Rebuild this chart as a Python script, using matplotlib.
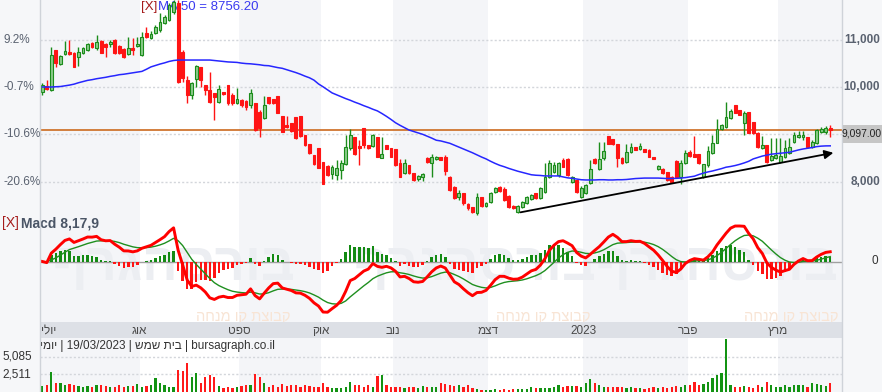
import numpy as np
import pandas as pd
import matplotlib
matplotlib.use('Agg')
import matplotlib.pyplot as plt
from matplotlib.lines import Line2D
from matplotlib.patches import Rectangle

plt.rcParams['font.family'] = ['Liberation Sans', 'DejaVu Sans']

# daily candles, 03/07/2022 .. 19/03/2023
opens = [9890, 10020, 9940, 10780, 10490, 10700, 10740, 10720, 10630, 10720,
         10780, 10930, 10820, 10970, 10910, 10910, 10990, 10870, 10800, 10700,
         10820, 10870, 10680, 11140, 11040, 11140, 11210, 11350, 11420, 11590,
         11780, 10740, 10150, 9830, 10170, 10420, 10040, 9940, 9870, 9680,
         9890, 10040, 9830, 9660, 9730, 9700, 9620, 9660, 9470, 9340,
         9790, 9750, 9810, 9390, 9200, 9240, 9370, 9390, 8990, 8800,
         8560, 8710, 8410, 8330, 8160, 8140, 8250, 8370, 8710, 8940,
         8750, 9130, 8770, 8750, 8940, 8500, 8770, 8710, 8690, 8390,
         8180, 8350, 8180, 8060, 8100, 8500, 8390, 8480, 8520, 8520,
         8100, 7890, 7670, 7760, 7530, 7460, 7340, 7670, 7480, 7570,
         7780, 7890, 7840, 7700, 7480, 7360, 7460, 7550, 7630, 7760,
         7650, 7780, 8100, 8200, 8140, 8460, 8480, 7990, 8030, 7670,
         7760, 7970, 8480, 8270, 8500, 8960, 8900, 8800, 8500, 8410,
         8630, 8730, 8690, 8690, 8670, 8520, 8270, 8270, 8200, 8100,
         8440, 8100, 8390, 8630, 8580, 8580, 8100, 8350, 8600, 8820,
         9110, 9150, 9340, 9620, 9510, 9240, 9470, 9260, 9030, 8710,
         8770, 8460, 8500, 8410, 8520, 8600, 8840, 8940, 8940, 8940,
         8730, 8820, 9050, 9050, 9130]
closes = [10040, 9960, 10680, 10510, 10660, 10760, 10700, 10420, 10740, 10820,
          10910, 10850, 10950, 10720, 10850, 10950, 10720, 10720, 10630, 10820,
          10780, 10910, 11060, 11060, 11120, 11270, 11370, 11480, 11730, 11800,
          10110, 10190, 9830, 10080, 10440, 10150, 9940, 9680, 9790, 9960,
          9850, 9660, 9660, 9750, 9620, 9580, 9870, 9090, 9130, 9620,
          9660, 9660, 9450, 9050, 9150, 9070, 8920, 8960, 8770, 8600,
          8370, 8290, 7950, 8140, 8310, 8290, 8390, 8730, 8990, 8580,
          8710, 8770, 8710, 8990, 8520, 8580, 8690, 8520, 8350, 8100,
          8390, 8180, 8030, 8120, 8160, 8410, 8520, 8520, 8460, 8220,
          7820, 7650, 7760, 7550, 7440, 7360, 7670, 7480, 7550, 7760,
          7870, 7800, 7610, 7460, 7440, 7480, 7570, 7670, 7720, 7650,
          7870, 8100, 8390, 8350, 8390, 8310, 8140, 8100, 7780, 7870,
          7930, 8270, 8390, 8480, 8650, 8800, 8800, 8500, 8390, 8630,
          8730, 8670, 8750, 8630, 8520, 8480, 8330, 8180, 8030, 7990,
          8100, 8390, 8600, 8540, 8520, 8390, 8370, 8650, 8820, 9110,
          9200, 9370, 9490, 9450, 9410, 9450, 9030, 9030, 8730, 8770,
          8410, 8540, 8560, 8540, 8710, 8730, 8990, 8990, 8990, 8730,
          8840, 9090, 9110, 9130, 9097]
highs = [10080, 10150, 10850, 10780, 10680, 10970, 10990, 10740, 10850, 10850,
         10930, 10950, 11100, 10990, 10930, 10990, 11010, 10890, 10820, 11060,
         11040, 11060, 11160, 11270, 11180, 11310, 11560, 11520, 11780, 11840,
         11840, 10780, 10230, 10110, 10470, 10420, 10040, 10320, 9870, 10040,
         9890, 10040, 9870, 9980, 9750, 9730, 9960, 9660, 9510, 9810,
         9790, 9750, 9810, 9390, 9390, 9240, 9370, 9390, 8990, 8800,
         8560, 8710, 8410, 8350, 8350, 8460, 8460, 8990, 9110, 8940,
         8880, 9130, 8780, 9010, 8940, 8940, 8780, 8720, 8700, 8480,
         8480, 8360, 8190, 8140, 8180, 8510, 8580, 8540, 8530, 8560,
         8110, 7900, 7820, 7760, 7550, 7460, 7760, 7680, 7570, 7780,
         7890, 7910, 7890, 7710, 7510, 7510, 7590, 7700, 7740, 7770,
         7890, 8390, 8460, 8410, 8410, 8500, 8490, 8120, 8040, 7910,
         7950, 8460, 8490, 8840, 8840, 8970, 8900, 8800, 8510, 8800,
         8820, 8740, 8820, 8700, 8680, 8530, 8350, 8280, 8210, 8110,
         8450, 8460, 8670, 8670, 8960, 8590, 8380, 8750, 8990, 9320,
         9220, 9680, 9540, 9630, 9520, 9490, 9480, 9260, 9040, 8960,
         8780, 8920, 8920, 8920, 8880, 8920, 9050, 9070, 9070, 8950,
         8880, 9110, 9150, 9180, 9200]
lows = [9830, 9940, 9920, 10420, 10470, 10680, 10680, 10420, 10440, 10700,
        10760, 10820, 10780, 10710, 10630, 10850, 10700, 10700, 10620, 10680,
        10680, 10850, 10660, 11040, 11020, 11120, 11160, 11330, 11400, 11540,
        10080, 10110, 9660, 9750, 10000, 10000, 9830, 9670, 9300, 9660,
        9830, 9620, 9620, 9640, 9580, 9510, 9560, 9080, 8940, 9320,
        9640, 9640, 9440, 9040, 9130, 9050, 8910, 8940, 8750, 8580,
        8350, 8280, 7940, 8120, 8060, 8030, 8060, 8350, 8670, 8570,
        8350, 8710, 8700, 8730, 8510, 8490, 8680, 8510, 8340, 8090,
        8160, 8170, 8020, 8010, 8010, 8400, 8100, 8460, 8450, 8140,
        7810, 7640, 7610, 7510, 7400, 7340, 7290, 7470, 7460, 7550,
        7760, 7780, 7600, 7450, 7430, 7340, 7440, 7530, 7610, 7640,
        7630, 7770, 8080, 8180, 8100, 8300, 8120, 7970, 7770, 7650,
        7740, 7950, 8380, 8250, 8460, 8790, 8770, 8310, 8380, 8390,
        8610, 8660, 8670, 8620, 8510, 8470, 8250, 8170, 8020, 7980,
        8090, 7950, 8370, 8520, 8510, 8380, 8080, 8310, 8590, 8810,
        9090, 9140, 9330, 9440, 9400, 8990, 9020, 9010, 8720, 8690,
        8400, 8440, 8480, 8390, 8500, 8580, 8820, 8920, 8880, 8710,
        8710, 8800, 9030, 9010, 8940]
ma50 = [10000, 10000, 10000, 10005, 10010, 10025, 10040, 10060, 10090, 10115,
        10140, 10155, 10175, 10190, 10205, 10225, 10240, 10260, 10270, 10285,
        10300, 10315, 10330, 10375, 10425, 10455, 10485, 10510, 10540, 10560,
        10570, 10570, 10570, 10570, 10570, 10570, 10570, 10570, 10560, 10550,
        10540, 10530, 10525, 10520, 10505, 10495, 10490, 10480, 10470, 10455,
        10450, 10430, 10410, 10395, 10365, 10335, 10305, 10270, 10230, 10195,
        10145, 10065, 10005, 9940, 9875, 9835, 9795, 9755, 9720, 9680,
        9645, 9605, 9570, 9530, 9495, 9440, 9380, 9315, 9245, 9190,
        9140, 9090, 9060, 9030, 9000, 8960, 8920, 8875, 8860, 8835,
        8810, 8770, 8730, 8690, 8650, 8610, 8565, 8520, 8480, 8430,
        8385, 8345, 8315, 8280, 8250, 8220, 8195, 8170, 8145, 8135,
        8130, 8120, 8120, 8120, 8120, 8100, 8080, 8070, 8055, 8040,
        8035, 8035, 8035, 8040, 8040, 8035, 8035, 8040, 8040, 8045,
        8055, 8065, 8070, 8075, 8075, 8075, 8075, 8070, 8065, 8065,
        8070, 8075, 8085, 8100, 8115, 8150, 8180, 8205, 8225, 8250,
        8275, 8305, 8320, 8340, 8365, 8395, 8430, 8480, 8510, 8540,
        8560, 8580, 8590, 8600, 8610, 8620, 8645, 8670, 8690, 8705,
        8720, 8740, 8750, 8755, 8756.2]
volume = [800, 900, 2900, 1190, 1290, 950, 1100, 950, 800, 710,
          850, 710, 950, 950, 850, 710, 710, 950, 710, 800,
          800, 1100, 710, 800, 950, 1920, 1190, 950, 710, 710,
          3140, 3040, 4110, 2170, 2650, 1190, 2170, 2410, 2170, 800,
          460, 710, 460, 610, 800, 950, 950, 2550, 2170, 1190,
          710, 950, 610, 1100, 800, 950, 950, 710, 950, 800,
          610, 710, 1290, 710, 460, 460, 460, 610, 1430, 950,
          950, 710, 950, 710, 2250, 2410, 950, 710, 610, 710,
          460, 710, 710, 460, 850, 710, 610, 710, 1190, 1100,
          950, 800, 950, 710, 950, 460, 350, 220, 220, 220,
          350, 220, 400, 220, 350, 350, 350, 350, 710, 460,
          460, 460, 460, 710, 950, 710, 800, 800, 800, 710,
          1190, 1800, 1290, 950, 710, 610, 710, 610, 710, 460,
          710, 460, 460, 400, 460, 610, 460, 610, 460, 710,
          800, 710, 950, 950, 1430, 950, 1100, 1430, 1920, 2410,
          2650, 7600, 950, 710, 610, 800, 610, 460, 950, 710,
          1430, 950, 610, 710, 950, 710, 950, 950, 950, 710,
          1290, 1100, 950, 800, 1190]

month_start = [0, 22, 44, 62, 78, 99, 120, 143, 163]
month_names = ['יולי', 'אוג', 'ספט', 'אוק', 'נוב', 'דצמ', '2023', 'פבר', 'מרץ']
price_ticks = [11000, 10000, 9000, 8000]
price_tick_labels = ['11,000', '10,000', '', '8,000']
pct_labels = ['9.2%', '-0.7%', '-10.6%', '-20.6%']
vol_ticks = [5085, 2511]
vol_tick_labels = ['5,085', '2,511']
trend_x = [105, 175.3]
trend_y = [7340, 8620]


def rtl(s):
    # matplotlib has no bidi support: hand it the visual order
    return s[::-1]


W, H = 882, 392
fig = plt.figure(figsize=(W / 100, H / 100), dpi=100)
fig.patch.set_facecolor('white')


def box(x0, y0, x1, y1):
    return [x0 / W, 1 - y1 / H, (x1 - x0) / W, (y1 - y0) / H]


def ptext(axis, xpx, ypx, s, **kw):
    return axis.text(xpx / W, 1 - ypx / H, s, transform=fig.transFigure, **kw)


# side margins
fig.add_artist(Rectangle((0, 0), 40 / W, 1, transform=fig.transFigure,
                         fc='#f6f7f9', ec='none', zorder=-5))
fig.add_artist(Rectangle((842 / W, 0), 40 / W, 1, transform=fig.transFigure,
                         fc='#f6f7f9', ec='none', zorder=-5))

o = np.array(opens, float)
c = np.array(closes, float)
hi = np.array(highs, float)
lo = np.array(lows, float)
n = len(c)
idx = np.arange(n)
up = c >= o
xlim = (-0.5, 176.6)

ax = fig.add_axes(box(40, 0, 842, 218))
axm = fig.add_axes(box(40, 218, 842, 322))
axd = fig.add_axes(box(40, 322, 842, 338))
axv = fig.add_axes(box(40, 338, 842, 392))

for a in (ax, axm, axd, axv):
    a.set_xlim(*xlim)
    a.set_xticks([])
    a.set_yticks([])
    for s in a.spines.values():
        s.set_visible(False)

bounds = month_start + [xlim[1] + 0.5]
for a in (ax, axm, axv):
    a.set_facecolor('white')
    for k in range(len(month_start)):
        if k % 2 == 0:
            a.axvspan(bounds[k] - 0.5, bounds[k + 1] - 0.5, color='#f4f5f8', lw=0, zorder=0)

# ---- price panel
ax.set_ylim(7231, 11839)
for v in price_ticks:
    ax.axhline(v, color='#d3d6db', lw=1, ls=(0, (1.5, 1.5)), zorder=1)
ax.axhline(c[-1], color='#cc6a1e', lw=1.2, zorder=2)

ptext(ax, 141, 7, '[X]', color='#a51b1b', fontsize=9.5, va='center', zorder=1)
ptext(ax, 158, 7, 'MA 50 = 8756.20', color='#3a3af0', fontsize=9.5, va='center', zorder=1)

body_lo = np.minimum(o, c)
body_h = np.maximum(np.abs(c - o), 14)
ax.vlines(idx, lo, hi, colors=np.where(up, '#1b8c1b', '#ff1414'), lw=1, zorder=3)
ax.bar(idx, body_h, bottom=body_lo, width=0.62,
       color=np.where(up, '#8ccb8c', '#ff1414'),
       edgecolor=np.where(up, '#1b8c1b', '#ff1414'), lw=0.8, zorder=4)
ax.plot(idx, ma50, color='#2626ff', lw=1.1, zorder=5)
ax.annotate('', xy=(trend_x[1], trend_y[1]), xytext=(trend_x[0], trend_y[0]),
            arrowprops=dict(arrowstyle='-|>', color='black', lw=1.3, mutation_scale=13),
            zorder=6)

for v, lab, pct in zip(price_ticks, price_tick_labels, pct_labels):
    ax.text(1.0474, v, lab, transform=ax.get_yaxis_transform(), ha='right', va='center',
            fontsize=8.5, color='#5a6270', fontweight='bold', clip_on=False)
    ax.text(-0.0449, v, pct, transform=ax.get_yaxis_transform(), ha='left', va='center',
            fontsize=8.5, color='#5a6270', clip_on=False)

fig.add_artist(Rectangle((843 / W, 1 - 143 / H), 39 / W, 18 / H, transform=fig.transFigure,
                         fc='#c6c6c6', ec='none', zorder=4))
fig.text(862 / W, 1 - 134 / H, f'{c[-1]:,.2f}', ha='center', va='center',
         fontsize=7.4, color='#222222', zorder=5)

# ---- MACD panel
cs = pd.Series(c)
macd = (cs.ewm(span=8, adjust=False).mean() - cs.ewm(span=17, adjust=False).mean()).values
sig = pd.Series(macd).ewm(span=9, adjust=False).mean().values
hist = macd - sig
k = 35.5 / macd.max()
axm.set_ylim(-60.5 / k, 43.5 / k)

# faint logo watermark
for x1 in (295, 596, 838):
    ptext(axm, x1, 266, rtl('בורסהגרף'), fontsize=38, fontweight='bold',
          color='#eceef2', va='center', ha='right', zorder=1, clip_on=True)
for x1 in (290, 591, 838):
    ptext(axm, x1, 317, rtl('קבוצת קו מנחה'), fontsize=10.5, color='#f8e4d4',
          va='center', ha='right', zorder=1)

axm.axhline(0, color='#a0a0a0', lw=1, zorder=2)
axm.bar(idx, hist, width=0.55, color=np.where(hist >= 0, '#138a13', '#ff1414'), zorder=3)
axm.plot(idx, sig, color='#1f8f1f', lw=1, zorder=4)
axm.plot(idx, macd, color='#ff0000', lw=2.1, zorder=5)

ptext(axm, 2, 223, '[X]', color='#a51b1b', fontsize=10, va='center', zorder=6)
ptext(axm, 21, 223, 'Macd 8,17,9', color='#4a5566', fontsize=10, fontweight='bold',
      va='center', zorder=6)
fig.text(878 / W, 1 - 261 / H, '0', ha='right', va='center', fontsize=8.5, color='#333333')

# ---- date strip
axd.set_facecolor('#dde0e6')
axd.set_ylim(0, 1)
for k, name in enumerate(month_names):
    label = name if name.isdigit() else rtl(name)
    if k == 0:
        axd.text(-0.2, 0.45, label, ha='left', va='center', fontsize=8.5, color='#4a4a4a')
    else:
        axd.text(month_start[k] - 0.5, 0.45, label, ha='center', va='center',
                 fontsize=8.5, color='#4a4a4a')

# ---- volume panel
axv.set_ylim(-73, 7811)
for v in vol_ticks:
    axv.axhline(v, color='#d3d6db', lw=1, ls=(0, (1.5, 1.5)), zorder=1)
axv.bar(idx, volume, width=0.5, color=np.where(up, '#139313', '#ff1a1a'), zorder=3)
for v, lab in zip(vol_ticks, vol_tick_labels):
    axv.text(-0.0474, v, lab, transform=axv.get_yaxis_transform(), ha='left', va='center',
             fontsize=8.5, color='#333333', clip_on=False)
footer = rtl('יומי') + ' | 19/03/2023 | ' + rtl('בית שמש') + ' | bursagraph.co.il'
ptext(axv, 40, 346, footer, ha='left', va='center', fontsize=8.5, color='#333333', zorder=6)

# panel separators
for xp in (40, 842):
    fig.add_artist(Line2D([xp / W, xp / W], [0, 1], transform=fig.transFigure,
                          color='#cfd3d9', lw=1))

fig.savefig('out.png', dpi=100)
